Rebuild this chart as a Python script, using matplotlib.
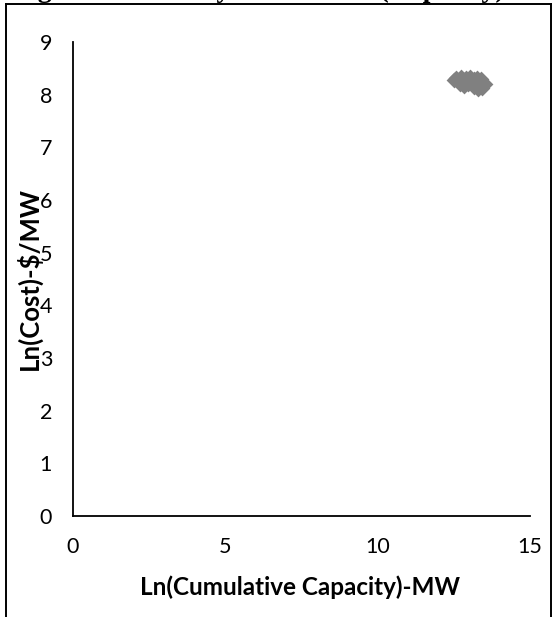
import matplotlib
matplotlib.use("Agg")
import matplotlib.pyplot as plt
from matplotlib.lines import Line2D

# data
ln_capacity = [12.50, 12.58, 12.66, 12.75, 12.83, 12.90, 12.97, 13.04, 13.10, 13.16,
               13.22, 13.27, 13.32, 13.37, 13.42, 13.46, 13.52, 12.70, 12.85, 13.00,
               13.15, 13.30, 13.40]
ln_cost = [8.27, 8.31, 8.24, 8.33, 8.27, 8.31, 8.21, 8.34, 8.26, 8.30,
           8.20, 8.31, 8.17, 8.26, 8.12, 8.22, 8.20, 8.20, 8.17, 8.24,
           8.15, 8.11, 8.29]
x_ticks = [0, 5, 10, 15]
y_ticks = [0, 1, 2, 3, 4, 5, 6, 7, 8, 9]

plt.rcParams["font.family"] = ["Lato", "DejaVu Sans"]

fig = plt.figure(figsize=(5.58, 6.17), dpi=100)
ax = fig.add_axes([0.1308, 0.1637, 0.8190, 0.7682])

ax.scatter(ln_capacity, ln_cost, marker="D", s=65, color="#808080", linewidths=0)

ax.set_xlim(0, 15)
ax.set_ylim(0, 9)
ax.set_xticks(x_ticks)
ax.set_yticks(y_ticks)
ax.tick_params(length=0, labelsize=15.5)
ax.tick_params(axis="x", pad=15)
ax.tick_params(axis="y", pad=15)
for side in ["top", "right"]:
    ax.spines[side].set_visible(False)
for side in ["left", "bottom"]:
    ax.spines[side].set_linewidth(1.3)

fig.text(300 / 558, 1 - 587 / 617, "Ln(Cumulative Capacity)-MW", fontsize=17.5,
         fontweight="bold", ha="center", va="center")
fig.text(28.5 / 558, 1 - 279 / 617, "Ln(Cost)-$/MW", rotation=90, fontsize=18.5,
         fontweight="bold", ha="center", va="center")

# caption above the frame, mostly cropped
fig.text(13 / 558, 1 + 3 / 617, "Figure 11: Battery Cost Curve (Capacity)",
         fontsize=20, fontweight="bold", family="Liberation Serif",
         ha="left", va="baseline")
lw = 1.4
fig.add_artist(Line2D([6 / 558, 6 / 558], [0, 1 - 4 / 617], color="black", lw=lw))
fig.add_artist(Line2D([551 / 558, 551 / 558], [0, 1 - 4 / 617], color="black", lw=lw))
fig.add_artist(Line2D([6 / 558, 551 / 558], [1 - 4 / 617, 1 - 4 / 617], color="black", lw=lw))

fig.savefig("out.png", dpi=100)
